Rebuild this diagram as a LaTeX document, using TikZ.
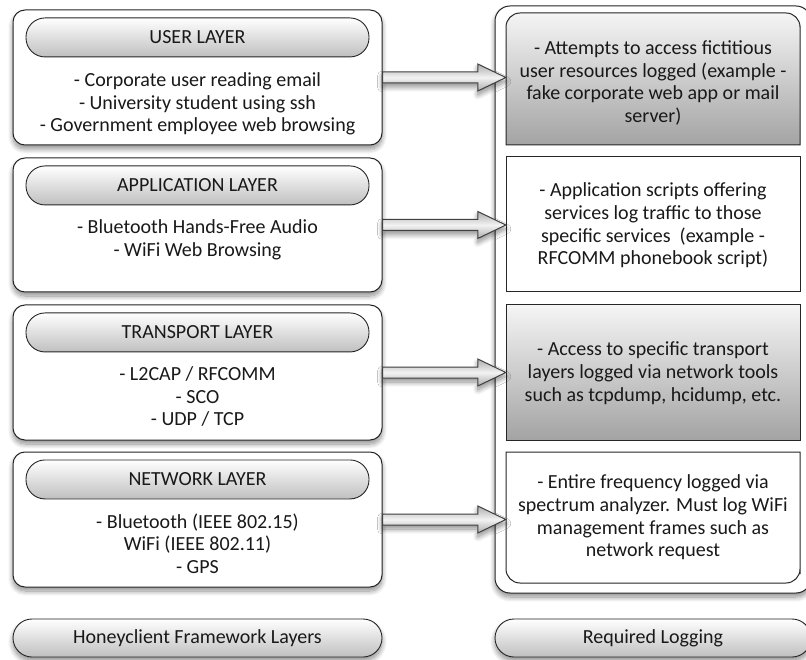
\documentclass[tikz,border=0pt]{standalone}
\usepackage{fontspec}
\setmainfont{Carlito}
\usetikzlibrary{positioning,calc,shadows.blur}

\tikzset{
  softshadow/.style={blur shadow={shadow xshift=0pt, shadow yshift=-4pt, shadow blur radius=5pt, shadow blur steps=10, shadow opacity=45}},
  layerbox/.style={draw=black!85, line width=1pt, fill=white, rounded corners=12pt, minimum width=369pt, minimum height=135pt, softshadow},
  pill/.style={draw=black!85, line width=0.9pt, rounded corners=19pt, top color=white, bottom color=black!25, minimum width=343pt, minimum height=39pt, inner sep=0pt},
  items/.style={align=center, inner sep=0pt},
  logtext/.style={align=center, inner sep=0pt, minimum width=294pt},
  logshade/.style={draw=black!85, line width=1pt, top color=black!4, bottom color=black!36},
  logplain/.style={draw=black!85, line width=1pt, fill=white},
  arrowshape/.style={draw=black!75, line width=1pt, top color=black!32, bottom color=black!32, middle color=black!5, softshadow}
}

% block arrow from a layer to its logging box
\newcommand\layerarrow[2]{
  \draw[arrowshape] ($(#1.east)+(0,-5.5)$) -- ($(#1.east -| #2.west)+(-28,-5.5)$) -- ++(0,-8) -- (#1.east -| #2.west) -- ++(-28,13.5) -- ++(0,-8) -- ($(#1.east)+(0,5.5)$) -- cycle;
}

\begin{document}
\begin{tikzpicture}[x=1pt, y=-1pt, font=\fontsize{20}{22.7}\selectfont, text=black!90]
\useasboundingbox (0,0) rectangle (806,660);

% layers
\node[layerbox] (user) at (197.5,77.5) {};
\node[pill, below=8pt of user.north] (userpill) {USER LAYER};
\node[items, below=15pt of userpill] (useritems) {- Corporate user reading email\\- University student using ssh\\- Government employee web browsing};

\node[layerbox, minimum height=134pt] (app) at (197.5,225) {};
\node[pill, below=8pt of app.north] (apppill) {APPLICATION LAYER};
\node[items, below=14pt of apppill] (appitems) {- Bluetooth Hands-Free Audio\\- WiFi Web Browsing};

\node[layerbox] (trans) at (197.5,372.5) {};
\node[pill, below=8pt of trans.north] (transpill) {TRANSPORT LAYER};
\node[items, below=14pt of transpill] (transitems) {- L2CAP / RFCOMM\\- SCO\\- UDP / TCP};

\node[layerbox] (net) at (197.5,519.5) {};
\node[pill, below=8pt of net.north] (netpill) {NETWORK LAYER};
\node[items, below=14pt of netpill] (netitems) {- Bluetooth (IEEE 802.15)\\WiFi (IEEE 802.11)\\- GPS};

% logging frame and its four boxes
\node[layerbox, rounded corners=15pt, minimum width=316pt, minimum height=587pt] (logframe) at (653,299.5) {};
\draw[logshade] (506,145) [rounded corners=14pt] -- (506,13) -- (800,13) -- (800,40) [sharp corners] -- (800,145) -- cycle;
\draw[logplain] (506,157) rectangle (800,292);
\draw[logshade] (506,305) rectangle (800,440);
\draw[logplain] (506,452) [rounded corners=14pt] -- (506,583) -- (800,583) -- (800,560) [sharp corners] -- (800,452) -- cycle;

\node[logtext, minimum height=132pt] (log1) at (653,83) {- Attempts to access fictitious\\user resources logged (example -\\fake corporate web app or mail\\server)};
\node[logtext, minimum height=135pt] (log2) at (653,225.5) {- Application scripts offering\\services log traffic to those\\specific services~ (example -\\RFCOMM phonebook script)};
\node[logtext, minimum height=135pt] (log3) at (653,373) {- Access to specific transport\\layers logged via network tools\\such as tcpdump, hcidump, etc.};
\node[logtext, minimum height=131pt] (log4) at (653,517.5) {- Entire frequency logged via\\spectrum analyzer. Must log WiFi\\management frames such as\\network request};

\layerarrow{user}{log1}
\layerarrow{app}{log2}
\layerarrow{trans}{log3}
\layerarrow{net}{log4}

% captions
\node[pill, softshadow, minimum width=369pt, minimum height=38pt] (layerfoot) at (197.5,638) {Honeyclient Framework Layers};
\node[pill, softshadow, minimum width=316pt, minimum height=38pt] (logfoot) at (653,638) {Required Logging};
\end{tikzpicture}
\end{document}
